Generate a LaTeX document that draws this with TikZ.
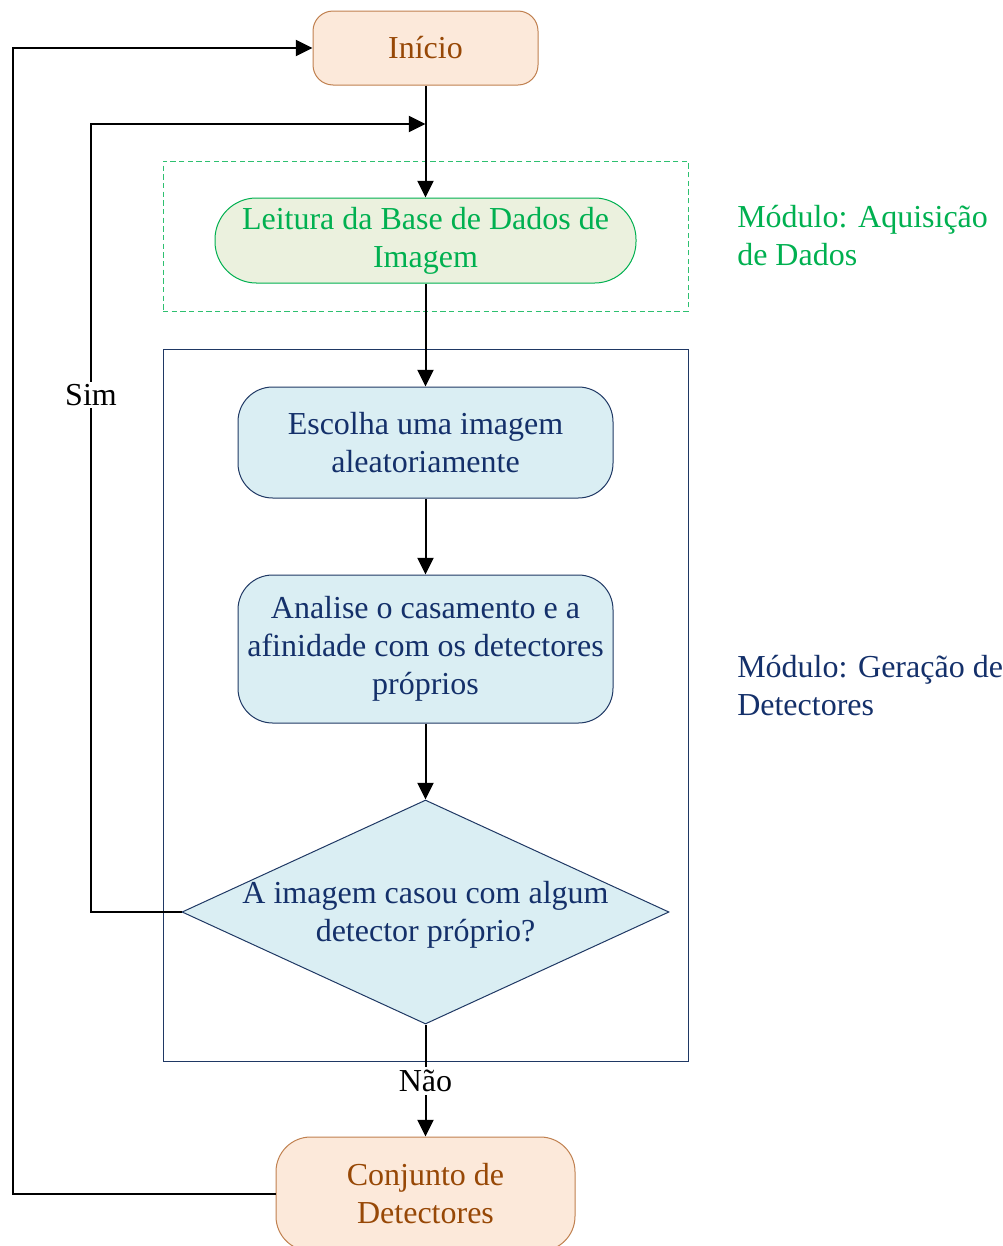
\documentclass[tikz,border=0pt]{standalone}
\usepackage{fontspec}
\setmainfont{Liberation Serif}
\usetikzlibrary{shapes.geometric,arrows.meta}
\definecolor{peachfill}{HTML}{FCE9DA}
\definecolor{peachdraw}{HTML}{C0804F}
\definecolor{peachtext}{HTML}{974806}
\definecolor{grn}{HTML}{00B050}
\definecolor{grnfill}{HTML}{EBF1DE}
\definecolor{grnframe}{HTML}{2EC070}
\definecolor{bluefill}{HTML}{DAEEF3}
\definecolor{bluedraw}{HTML}{1F3864}
\definecolor{bluetext}{HTML}{14306A}
\begin{document}
\begin{tikzpicture}[x=0.75pt,y=-0.75pt,
  font=\fontsize{24}{28.5}\selectfont,
  box/.style={draw, line width=0.75pt, align=center, inner sep=0pt},
  peachbox/.style={box, draw=peachdraw, fill=peachfill, text=peachtext},
  greenbox/.style={box, draw=grn, fill=grnfill, text=grn},
  bluebox/.style={box, draw=bluedraw, fill=bluefill, text=bluetext},
  arr/.style={line width=1.5pt, -{Triangle[length=12.5pt,width=12pt]}},
  lbl/.style={fill=white, inner sep=2pt, text=black},
  frame/.style={draw, inner sep=0pt, line width=0.75pt}
]
\useasboundingbox (0,0) rectangle (1003,1246);
% frames
\node[frame, draw=grnframe, dash pattern=on 4pt off 2.5pt, minimum width=393.75pt, minimum height=112.5pt] (gframe) at (425.5,236) {};
\node[frame, draw=bluedraw, minimum width=393.75pt, minimum height=534pt] (bframe) at (425.5,705) {};
% nodes
\node[peachbox, minimum width=168.75pt, minimum height=55.5pt, rounded corners=15pt] (ini) at (425.5,48) {Início};
\node[greenbox, minimum width=315.75pt, minimum height=63.75pt, rounded corners=31pt] (lei) at (425.5,240.5) {\raisebox{-1.5pt}{\parbox{310pt}{\centering Leitura da Base de Dados de\\Imagem}}};
\node[bluebox, minimum width=281.25pt, minimum height=83.25pt, rounded corners=26pt] (esc) at (425.5,442.5) {Escolha uma imagem\\aleatoriamente};
\node[bluebox, minimum width=281.25pt, minimum height=111pt, rounded corners=26pt] (ana) at (425.5,649) {\raisebox{-1.5pt}{\parbox{275pt}{\centering Analise o casamento e a\\afinidade com os detectores\\próprios}}};
\node[diamond, draw=bluedraw, fill=bluefill, line width=0.75pt, inner sep=0pt, minimum width=365.25pt, minimum height=168pt] (dec) at (425.5,912) {};
\node[align=center, text=bluetext, inner sep=0pt] (dectext) at ([yshift=-2pt]dec.center) {A imagem casou com algum\\detector próprio?};
\node[peachbox, minimum width=224.25pt, minimum height=85.5pt, rounded corners=26pt] (conj) at (425.5,1194) {Conjunto de\\Detectores};
% module labels
\node[anchor=west, align=left, text=grn, inner sep=0pt] (modA) at (737,236) {Módulo: Aquisição\\de Dados};
\node[anchor=west, align=left, text=bluetext, inner sep=0pt] (modB) at (737,686) {Módulo: Geração de\\Detectores};
% coordinates
\coordinate (j1) at (425.5,124);
\coordinate (c1) at (91,124);
\coordinate (c2) at (13,48);
% connectors
\draw[arr] (ini.south) -- (lei.north);
\draw[arr] (lei.south) -- (esc.north);
\draw[arr] (esc.south) -- (ana.north);
\draw[arr] (ana.south) -- (dec.north);
\draw[arr] (dec.south) -- (conj.north);
\draw[arr] (dec.west) -| (c1) -- (j1);
\draw[arr] (conj.west) -| (c2) -- (ini.west);
% labels
\node[lbl] (sim) at (91,395) {Sim};
\node[lbl] (nao) at (425.5,1081) {Não};
\end{tikzpicture}
\end{document}
